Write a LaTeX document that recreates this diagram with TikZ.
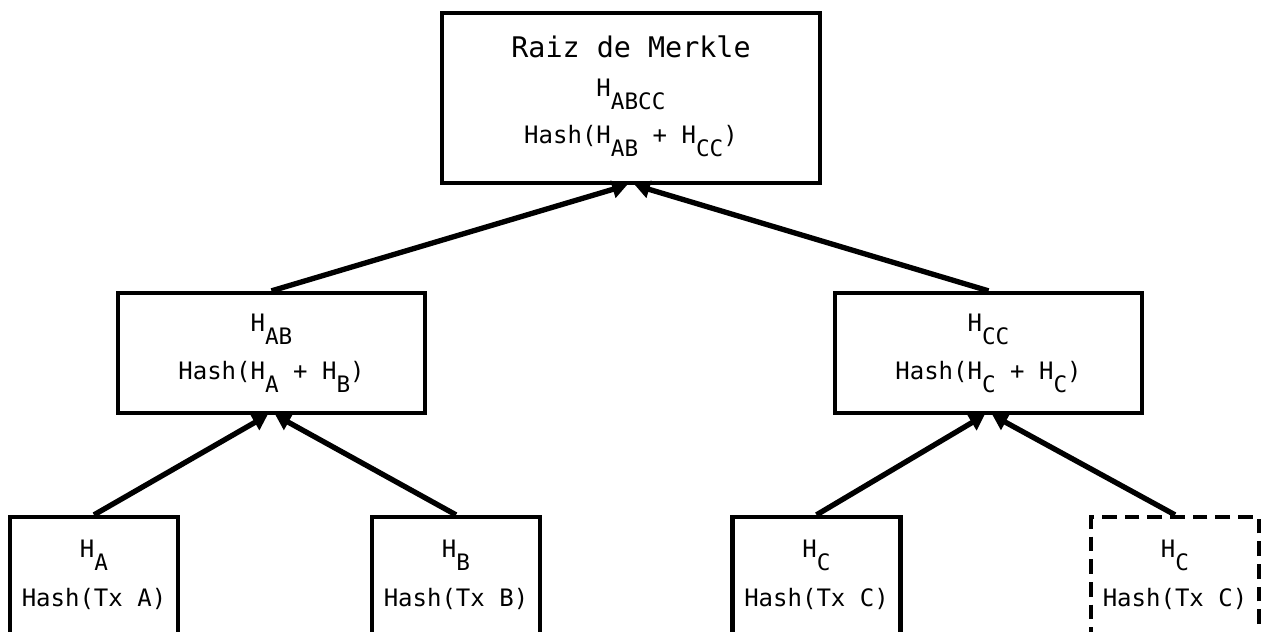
\documentclass[tikz,border=0pt]{standalone}
\usepackage{fontspec}
\newfontfamily\monof{DejaVu Sans Mono}
\usetikzlibrary{arrows.meta}
% lowered subscript text, almost the size of the line text
\newcommand\subtxt[1]{\raisebox{-10pt}{\fontsize{17pt}{19pt}\selectfont #1}}

\begin{document}
\begin{tikzpicture}[x=0.75pt,y=-0.75pt,
  box/.style={draw, line width=3.2pt, inner sep=0pt},
  rootbox/.style={box, minimum width=283.5pt, minimum height=127.5pt},
  midbox/.style={box, minimum width=230.25pt, minimum height=90pt},
  leafbox/.style={box, minimum width=126pt, minimum height=107.25pt},
  dupbox/.style={leafbox, dash pattern=on 11pt off 6pt},
  txt/.style={anchor=base, inner sep=0pt, font=\monof\fontsize{18pt}{21pt}\selectfont},
  title/.style={txt, font=\monof\fontsize{21.3pt}{25pt}\selectfont},
  link/.style={line width=4pt, -{Triangle[length=11pt,width=13pt]}}
]
\clip (0,0) rectangle (1261,632);

% boxes
\node[rootbox] (root) at (631,98) {};
\node[midbox] (hab) at (271.5,353) {};
\node[midbox] (hcc) at (988.5,353) {};
\node[leafbox] (ha) at (94,588.5) {};
\node[leafbox] (hb) at (456,588.5) {};
\node[leafbox] (hc) at (816.5,588.5) {};
\node[dupbox] (hc2) at (1175,588.5) {};

% texts
\node[title] (rootT) at (631,57) {Raiz de Merkle};
\node[txt] (rootH) at (631,96) {H\subtxt{ABCC}};
\node[txt] (rootF) at (631,143) {Hash(H\subtxt{AB} + H\subtxt{CC})};

\node[txt] (habH) at (271.5,331) {H\subtxt{AB}};
\node[txt] (habF) at (271.5,379) {Hash(H\subtxt{A} + H\subtxt{B})};
\node[txt] (hccH) at (988.5,331) {H\subtxt{CC}};
\node[txt] (hccF) at (988.5,379) {Hash(H\subtxt{C} + H\subtxt{C})};

\node[txt] (haH) at (94,557) {H\subtxt{A}};
\node[txt] (haF) at (94,606) {Hash(Tx A)};
\node[txt] (hbH) at (456,557) {H\subtxt{B}};
\node[txt] (hbF) at (456,606) {Hash(Tx B)};
\node[txt] (hcH) at (816.5,557) {H\subtxt{C}};
\node[txt] (hcF) at (816.5,606) {Hash(Tx C)};
\node[txt] (hc2H) at (1175,557) {H\subtxt{C}};
\node[txt] (hc2F) at (1175,606) {Hash(Tx C)};

% connectors
\draw[link] (hab.north) -- ([xshift=-3pt]root.south);
\draw[link] (hcc.north) -- ([xshift=3pt]root.south);
\draw[link] (ha.north) -- ([xshift=-3pt]hab.south);
\draw[link] (hb.north) -- ([xshift=3pt]hab.south);
\draw[link] (hc.north) -- ([xshift=-3pt]hcc.south);
\draw[link] (hc2.north) -- ([xshift=3pt]hcc.south);
\end{tikzpicture}
\end{document}
